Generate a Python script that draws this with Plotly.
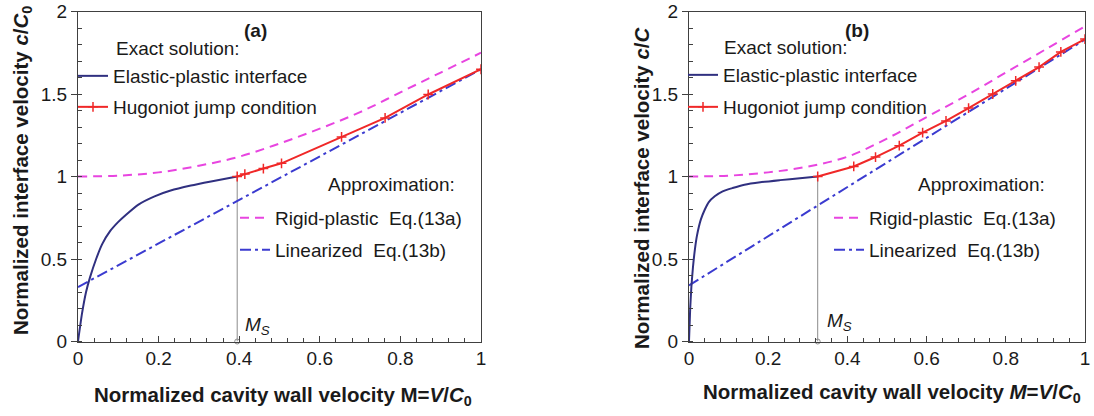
import plotly.graph_objects as go

# ---------------- data ----------------
# Panel (a)
a_ms = 0.395
a_ep_x = [0, 0.01, 0.02, 0.03, 0.045, 0.06, 0.08, 0.1, 0.12, 0.15, 0.19, 0.23, 0.28, 0.33, 0.395]
a_ep_y = [0, 0.17, 0.30, 0.39, 0.50, 0.59, 0.67, 0.725, 0.77, 0.83, 0.88, 0.915, 0.945, 0.97, 1.0]
a_hug_x = [0.395, 0.414, 0.46, 0.505, 0.654, 0.762, 0.869, 1.0]
a_hug_y = [1.0, 1.015, 1.048, 1.08, 1.24, 1.355, 1.497, 1.65]
a_rp_x = [0, 0.1, 0.2, 0.3, 0.4, 0.5, 0.6, 0.7, 0.8, 0.9, 1.0]
a_rp_y = [1.0, 1.005, 1.025, 1.065, 1.12, 1.2, 1.29, 1.39, 1.51, 1.63, 1.75]
a_lin_x = [0, 1.0]
a_lin_y = [0.33, 1.65]

# Panel (b)
b_ms = 0.325
b_ep_x = [0, 0.003, 0.006, 0.01, 0.015, 0.02, 0.03, 0.04, 0.05, 0.065, 0.085, 0.11, 0.14, 0.18, 0.23, 0.28, 0.325]
b_ep_y = [0, 0.2, 0.33, 0.45, 0.56, 0.64, 0.74, 0.80, 0.845, 0.88, 0.91, 0.93, 0.95, 0.965, 0.978, 0.99, 1.0]
b_hug_x = [0.325, 0.416, 0.471, 0.531, 0.59, 0.649, 0.706, 0.767, 0.825, 0.884, 0.939, 1.0]
b_hug_y = [1.0, 1.061, 1.118, 1.187, 1.266, 1.337, 1.415, 1.5, 1.58, 1.663, 1.755, 1.833]
b_rp_x = [0, 0.1, 0.2, 0.3, 0.4, 0.5, 0.6, 0.7, 0.8, 0.9, 1.0]
b_rp_y = [1.0, 1.005, 1.025, 1.06, 1.12, 1.23, 1.36, 1.49, 1.63, 1.77, 1.91]
b_lin_x = [0, 1.0]
b_lin_y = [0.34, 1.83]

x_ticks = [0, 0.2, 0.4, 0.6, 0.8, 1]
x_tick_text = ["0", "0.2", "0.4", "0.6", "0.8", "1"]
y_ticks = [0, 0.5, 1, 1.5, 2]
y_tick_text = ["0", "0.5", "1", "1.5", "2"]

NAME_EP = "Elastic-plastic interface"
NAME_HUG = "Hugoniot jump condition"
NAME_RP = "Rigid-plastic&nbsp; Eq.(13a)"
NAME_LIN = "Linearized&nbsp; Eq.(13b)"

# ---------------- styling ----------------
FONT = "Arial, 'Liberation Sans', sans-serif"
TXT = "#1a1a1a"
NAVY = "#303080"
RED = "#f02828"
MAGENTA = "#e845e0"
BLUE = "#3b3bd0"
GRAY = "#8c8c8c"
W, H = 1094, 416


def px(x):
    return x / W


def py(y):
    return 1 - y / H


fig = go.Figure()

panels = [
    dict(xa="x", ya="y", ms=a_ms, ep=(a_ep_x, a_ep_y), hug=(a_hug_x, a_hug_y),
         rp=(a_rp_x, a_rp_y), lin=(a_lin_x, a_lin_y), legs=["legend", "legend2", "legend3", "legend4"]),
    dict(xa="x2", ya="y2", ms=b_ms, ep=(b_ep_x, b_ep_y), hug=(b_hug_x, b_hug_y),
         rp=(b_rp_x, b_rp_y), lin=(b_lin_x, b_lin_y), legs=["legend5", "legend6", "legend7", "legend8"]),
]

for p in panels:
    ms = p["ms"]
    # vertical guide at M_S
    fig.add_trace(go.Scatter(x=[ms, ms], y=[0, 1.0], mode="lines", xaxis=p["xa"], yaxis=p["ya"],
                             line=dict(color=GRAY, width=1), showlegend=False, hoverinfo="skip"))
    fig.add_trace(go.Scatter(x=[ms], y=[0], mode="markers", xaxis=p["xa"], yaxis=p["ya"],
                             marker=dict(symbol="circle-open", size=5, color=GRAY, line=dict(width=1)),
                             showlegend=False, cliponaxis=False, hoverinfo="skip"))
    fig.add_trace(go.Scatter(x=p["rp"][0], y=p["rp"][1], mode="lines", name=NAME_RP,
                             xaxis=p["xa"], yaxis=p["ya"], legend=p["legs"][2],
                             line=dict(color=MAGENTA, width=2, dash="9px,6px", shape="spline")))
    fig.add_trace(go.Scatter(x=p["lin"][0], y=p["lin"][1], mode="lines", name=NAME_LIN,
                             xaxis=p["xa"], yaxis=p["ya"], legend=p["legs"][3],
                             line=dict(color=BLUE, width=2, dash="11px,4px,3px,4px")))
    fig.add_trace(go.Scatter(x=p["ep"][0], y=p["ep"][1], mode="lines", name=NAME_EP,
                             xaxis=p["xa"], yaxis=p["ya"], legend=p["legs"][0],
                             line=dict(color=NAVY, width=2, shape="spline", smoothing=0.6)))
    fig.add_trace(go.Scatter(x=p["hug"][0], y=p["hug"][1], mode="lines+markers", name=NAME_HUG,
                             xaxis=p["xa"], yaxis=p["ya"], legend=p["legs"][1],
                             line=dict(color=RED, width=2),
                             marker=dict(symbol="cross-thin", size=7, color=RED,
                                         line=dict(color=RED, width=1.5))))

axis_common = dict(range=[0, 1], showline=True, mirror=True, linecolor="#404040", linewidth=1,
                   showgrid=False, zeroline=False, tickfont=dict(family=FONT, size=19, color=TXT),
                   ticks="inside", ticklen=6, tickcolor="#404040", automargin=False,
                   tickvals=x_ticks, ticktext=x_tick_text,
                   minor=dict(ticks="inside", ticklen=4, dtick=0.04, tick0=0, tickcolor="#404040"))
yaxis_common = dict(range=[0, 2], showline=True, mirror=True, linecolor="#404040", linewidth=1,
                    showgrid=False, zeroline=False, tickfont=dict(family=FONT, size=19, color=TXT),
                    ticks="outside", ticklen=6, tickcolor="#404040", automargin=False,
                    tickvals=y_ticks, ticktext=y_tick_text,
                    minor=dict(ticks="inside", ticklen=4, dtick=0.1, tick0=0, tickcolor="#404040"))

ybot, ytop = py(341.5), py(11.5)

legend_common = dict(bgcolor="rgba(0,0,0,0)", borderwidth=0, font=dict(family=FONT, size=19, color=TXT),
                     itemwidth=30, xanchor="left", yanchor="middle", xref="paper", yref="paper")

fig.update_layout(
    width=W, height=H, margin=dict(l=0, r=0, t=0, b=0, autoexpand=False),
    paper_bgcolor="white", plot_bgcolor="white",
    font=dict(family=FONT, color=TXT),
    xaxis=dict(domain=[px(78), px(481)], anchor="y", **axis_common),
    yaxis=dict(domain=[ybot, ytop], anchor="x", **yaxis_common),
    xaxis2=dict(domain=[px(689), px(1085)], anchor="y2", **axis_common),
    yaxis2=dict(domain=[ybot, ytop], anchor="x2", **yaxis_common),
    legend=dict(x=px(73), y=py(76), **legend_common),
    legend2=dict(x=px(73), y=py(107), **legend_common),
    legend3=dict(x=px(235), y=py(218), **legend_common),
    legend4=dict(x=px(235), y=py(250), **legend_common),
    legend5=dict(x=px(683), y=py(75), **legend_common),
    legend6=dict(x=px(683), y=py(107), **legend_common),
    legend7=dict(x=px(829), y=py(218), **legend_common),
    legend8=dict(x=px(829), y=py(250), **legend_common),
)

ann = []
def add_text(text, x, y, xanchor="center", size=19, bold=False, angle=0):
    ann.append(dict(text=f"<b>{text}</b>" if bold else text, x=px(x), y=py(y), xref="paper", yref="paper",
                    xanchor=xanchor, yanchor="middle", showarrow=False, textangle=angle,
                    font=dict(family=FONT, size=size, color=TXT)))

add_text("(a)", 255, 31, bold=True)
add_text("(b)", 857, 31, bold=True)
add_text("Exact solution:", 114, 48, xanchor="left")
add_text("Exact solution:", 722, 47, xanchor="left")
add_text("Approximation:", 457, 184, xanchor="right")
add_text("Approximation:", 1047, 184, xanchor="right")
add_text("<i>M<sub>S</sub></i>", 243, 326, xanchor="left")
add_text("<i>M<sub>S</sub></i>", 825, 322, xanchor="left")
add_text("Normalized interface velocity <i>c</i>/<i>C</i><sub>0</sub>", 22, 171, size=20.5, bold=True, angle=-90)
add_text("Normalized interface velocity <i>c</i>/<i>C</i>", 642, 188, size=20.5, bold=True, angle=-90)
add_text("Normalized cavity wall velocity M=<i>V</i>/<i>C</i><sub>0</sub>", 283, 396, size=20.5, bold=True)
add_text("Normalized cavity wall velocity <i>M</i>=<i>V</i>/<i>C</i><sub>0</sub>", 892, 393, size=20.5, bold=True)
fig.update_layout(annotations=ann)

fig.write_html("out.html", config={"displayModeBar": False},
               post_script="document.body.style.margin='0';document.body.style.overflow='hidden';")
